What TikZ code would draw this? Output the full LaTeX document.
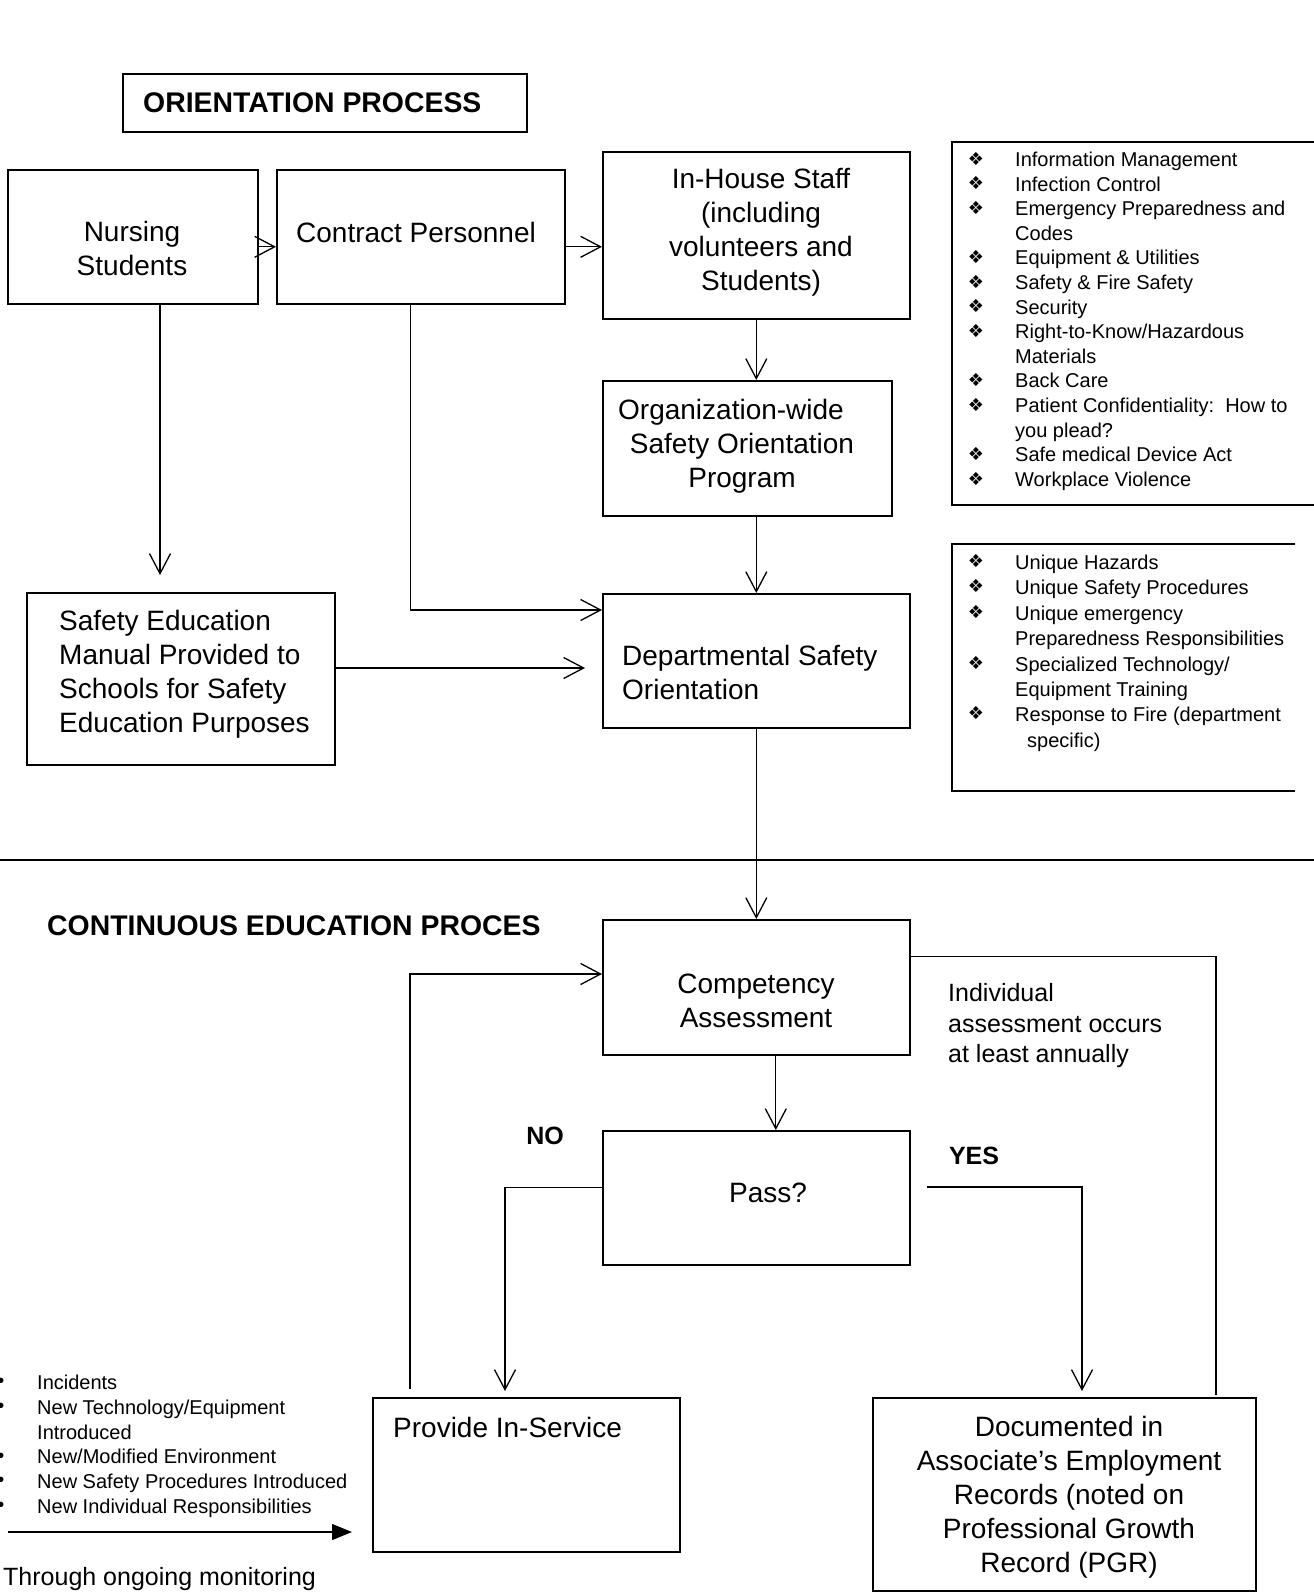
\documentclass[tikz,border=0pt]{standalone}
\usepackage{fontspec}
\setmainfont{Liberation Sans}
\newfontfamily\dingfont{DejaVu Sans}
\usetikzlibrary{arrows.meta}
\begin{document}
\begin{tikzpicture}[x=1pt,y=-1pt,
  box/.style={draw, line width=1.6pt, inner sep=0pt, anchor=north west},
  conn/.style={line width=1.3pt, -{Straight Barb[length=20pt,width=21pt]}},
  link/.style={line width=1.3pt},
  frame/.style={line width=1.3pt},
  txt/.style={inner sep=0pt, font=\fontsize{28}{34}\selectfont},
  note/.style={inner sep=0pt, font=\fontsize{25}{30.5}\selectfont},
  item/.style={inner sep=0pt, anchor=base west, font=\fontsize{20}{24.6}\selectfont},
  dot/.style={inner sep=0pt, font={\dingfont\fontsize{18}{20}\selectfont}},
  head/.style={inner sep=0pt, anchor=west, font=\fontsize{28.4}{34}\selectfont\bfseries},
  tag/.style={inner sep=0pt, font=\fontsize{25}{30}\selectfont\bfseries},
]
\useasboundingbox (0,0) rectangle (1314,1595);

% ---- boxes ----
\node[box, minimum width=404pt, minimum height=58pt]  (titlebox) at (122,73) {};
\node[box, minimum width=250pt, minimum height=134pt] (nurse)    at (7,169) {};
\node[box, minimum width=288pt, minimum height=134pt] (contract) at (276,169) {};
\node[box, minimum width=307pt, minimum height=167pt] (inhouse)  at (602,151) {};
\node[box, minimum width=289pt, minimum height=135pt] (org)      at (602,380) {};
\node[box, minimum width=307pt, minimum height=134pt] (dept)     at (602,593) {};
\node[box, minimum width=308pt, minimum height=172pt] (safed)    at (26,592) {};
\node[box, minimum width=307pt, minimum height=135pt] (comp)     at (602,919) {};
\node[box, minimum width=307pt, minimum height=134pt] (pass)     at (602,1130) {};
\node[box, minimum width=307pt, minimum height=154pt] (provide)  at (372,1397) {};
\node[box, minimum width=383pt, minimum height=193pt] (docs)     at (872,1397) {};

% ---- box texts ----
\node[head] (titletext) at (143,103) {ORIENTATION PROCESS};
\node[txt, align=center] (nursetext) at (132,248) {Nursing\\Students};
\node[txt] (contracttext) at (416,232) {Contract Personnel};
\node[txt, align=center] (inhousetext) at (761,232)
  {In-House Staff\\(including\hspace*{30pt}\\volunteers and\\Students)};
\node[txt, align=center] (orgtext) at (742,446)
  {Organization-wide\hspace*{22pt}\\Safety Orientation\\Program};
\node[txt, align=left, anchor=west] (depttext) at (622,672)
  {Departmental Safety\\Orientation};
\node[txt, align=left, anchor=west] (safedtext) at (59,674)
  {Safety Education\\Manual Provided to\\Schools for Safety\\Education Purposes};
\node[head] (conttitle) at (47,926) {CONTINUOUS EDUCATION PROCES};
\node[txt, align=center] (comptext) at (756,1001) {Competency\\Assessment};
\node[note, align=left, anchor=west] (annual) at (948,1026)
  {Individual\\assessment occurs\\at least annually};
\node[txt] (passtext) at (768,1193) {Pass?};
\node[tag] (notag) at (545,1136) {NO};
\node[tag] (yestag) at (974,1156) {YES};
\node[txt, anchor=west] (providetext) at (393,1427) {Provide In-Service};
\node[txt, align=center] (docstext) at (1069,1497)
  {Documented in\\Associate’s Employment\\Records (noted on\\Professional Growth\\Record (PGR)};

% ---- orientation topic list ----
\draw[frame] (1314,142) -- (952,142) -- (952,505) -- (1314,505);
\foreach \k/\t in {0/{Information Management},1/{Infection Control},
  2/{Emergency Preparedness and},3/{Codes},4/{Equipment \& Utilities},
  5/{Safety \& Fire Safety},6/{Security},7/{Right-to-Know/Hazardous},
  8/{Materials},9/{Back Care},10/{Patient Confidentiality:\ \ How to},
  11/{you plead?},12/{Safe medical Device Act},13/{Workplace Violence}}
  \node[item] (topitem\k) at (1015,{166.5+\k*24.6}) {\t};
\foreach \k in {0,1,2,4,5,6,7,9,10,12,13}
  \node[dot] (topdot\k) at (976,{158.7+\k*24.6}) {❖};

% ---- departmental topic list ----
\draw[frame] (1295,544) -- (952,544) -- (952,791) -- (1295,791);
\foreach \k/\xx/\t in {0/1015/{Unique Hazards},1/1015/{Unique Safety Procedures},
  2/1015/{Unique emergency},3/1015/{Preparedness Responsibilities},
  4/1015/{Specialized Technology/},5/1015/{Equipment Training},
  6/1015/{Response to Fire (department},7/1027/{specific)}}
  \node[item] (deptitem\k) at (\xx,{569.5+\k*25.4}) {\t};
\foreach \k in {0,1,2,4,6}
  \node[dot] (deptdot\k) at (976,{561+\k*25.4}) {❖};

% ---- monitoring triggers ----
\foreach \k/\t in {0/{Incidents},1/{New Technology/Equipment},2/{Introduced},
  3/{New/Modified Environment},4/{New Safety Procedures Introduced},
  5/{New Individual Responsibilities}}
  \node[item] (lowitem\k) at (37,{1389.5+\k*24.8}) {\t};
\foreach \k in {0,1,3,4,5}
  \node[inner sep=0pt, font=\fontsize{20}{24}\selectfont] (lowdot\k) at (1,{1383+\k*24.8}) {•};
\node[note, anchor=west] (monitor) at (3,1579) {Through ongoing monitoring};
\coordinate (monA) at (8,1532);
\coordinate (monB) at (352,1532);
\draw[line width=1.3pt, -{Triangle[length=20pt,width=16pt]}] (monA) -- (monB);

% ---- section divider ----
\draw[line width=2.4pt] (0,860) -- (1314,860);

% ---- orientation connectors ----
\draw[conn] ([yshift=-10pt]nurse.east) -- ([yshift=-10pt]contract.west);
\draw[conn] ([yshift=-10pt]contract.east) -- ([yshift=-10pt]contract.east -| inhouse.west);
\draw[conn] (inhouse.south) -- (inhouse.south |- org.north);
\draw[conn] (dept.north |- org.south) -- (dept.north);
\draw[conn] ([xshift=-10pt]contract.south) |- ([yshift=-17pt]dept.north west);
\coordinate (nurseend) at (160,575);
\draw[conn] (nurseend |- nurse.south) -- (nurseend);
\coordinate (safedend) at (585,668);
\draw[conn] (safed.east |- safedend) -- (safedend);
\draw[conn] (dept.south) -- (comp.north);

% ---- continuous education connectors ----
\draw[conn] ([xshift=19.5pt]comp.south) -- ([xshift=19.5pt]comp.south |- pass.north);
\coordinate (loopend) at (1216,1395);
\draw[link] ([yshift=30.5pt]comp.east) -| (loopend);
\coordinate (noend) at (505,1391);
\draw[conn] ([yshift=10pt]pass.west) -| (noend);
\coordinate (yesstart) at (927,1187);
\coordinate (yesend) at (1082,1391);
\draw[conn] (yesstart) -| (yesend);
\coordinate (backstart) at (410,1389);
\draw[conn] (backstart) |- ([yshift=-55pt]comp.north west);
\end{tikzpicture}
\end{document}
